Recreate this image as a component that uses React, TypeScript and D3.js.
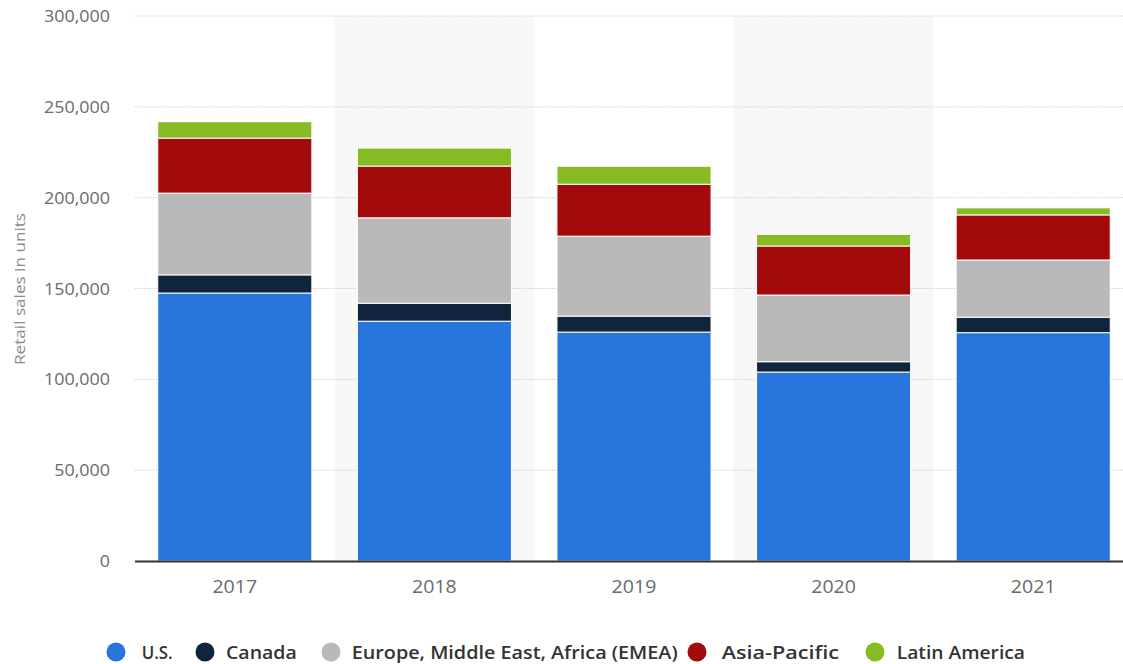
import React from "react";
import * as d3 from "d3";

const years = ["2017", "2018", "2019", "2020", "2021"];
const seriesNames = ["U.S.", "Canada", "Europe, Middle East, Africa (EMEA)", "Asia-Pacific", "Latin America"];
const usValues = [147500, 132000, 126000, 104000, 125700];
const canadaValues = [10000, 9900, 8800, 5700, 8500];
const emeaValues = [45000, 47000, 44000, 36700, 31500];
const apacValues = [30300, 28500, 28600, 27000, 24800];
const latamValues = [9000, 9900, 9900, 6400, 3900];
const yTicks = [0, 50000, 100000, 150000, 200000, 250000, 300000];
const colors = ["#2876dd", "#0f253d", "#b9b9b9", "#a30a0b", "#86bb23"];
const legendTextWidths = [31, 70.7, 326, 117.3, 128.3];
const legendCircleX = [116, 205, 331, 697, 875];
const legendTextX = [141.7, 226, 351.7, 721.7, 896.7];

export default function App() {
  const W = 1123, H = 664;
  const left = 135, right = 1133, top = 16, bottom = 561;
  const x = d3.scaleBand<string>().domain(years).range([left, right]).paddingInner(0.228).paddingOuter(0.114);
  const xFull = d3.scaleBand<string>().domain(years).range([left, right]).padding(0);
  const y = d3.scaleLinear().domain([0, 300000]).range([bottom, top]);

  const allSeries = [usValues, canadaValues, emeaValues, apacValues, latamValues];
  const table = years.map((yr, i) => {
    const o: any = { year: yr };
    seriesNames.forEach((s, j) => (o[s] = allSeries[j][i]));
    return o;
  });
  const stacked = d3.stack<any>().keys(seriesNames)(table);
  const fmt = d3.format(",");

  return (
    <svg width={W} height={H} style={{ position: "absolute", left: 0, top: 0, background: "#fff" }}
      fontFamily="'Open Sans', sans-serif">
      {years.map((yr, i) =>
        i % 2 === 1 ? (
          <rect key={yr} x={xFull(yr)} y={top} width={xFull.bandwidth()} height={bottom - top} fill="#f8f8f8" />
        ) : null
      )}
      {yTicks.filter((t) => t > 0).map((t) => (
        <line key={t} x1={left} x2={W} y1={y(t)} y2={y(t)} stroke="#cfcfcf" strokeWidth={1} strokeDasharray="1.5,1.5" />
      ))}
      {yTicks.map((t) => (
        <text key={t} transform={`translate(110,${y(t)}) scale(1.12,1)`} textAnchor="end" dominantBaseline="central"
          fontSize={16} fill="#6b6b6b">{fmt(t)}</text>
      ))}
      <text transform={`translate(25,289) rotate(-90)`} textAnchor="middle" fontSize={14.5} fill="#8a8a8a"
        textLength={152} lengthAdjust="spacingAndGlyphs">Retail sales in units</text>
      {stacked.map((layer, j) => (
        <g key={layer.key} fill={colors[j]}>
          {layer.map((d, i) => (
            <rect key={i} x={x(years[i])} width={x.bandwidth()} y={y(d[1])} height={y(d[0]) - y(d[1])}
              stroke="#ffffff" strokeWidth={1} />
          ))}
        </g>
      ))}
      <line x1={left} x2={W} y1={bottom + 0.5} y2={bottom + 0.5} stroke="#333" strokeWidth={2} />
      {years.map((yr) => (
        <text key={yr} transform={`translate(${(x(yr) as number) + x.bandwidth() / 2},593) scale(1.12,1)`}
          textAnchor="middle" fontSize={17.5} fill="#6b6b6b">{yr}</text>
      ))}
      {seriesNames.map((s, j) => (
        <g key={s}>
          <circle cx={legendCircleX[j]} cy={652} r={9.5} fill={colors[j]} />
          <text x={legendTextX[j]} y={659} fontSize={18.5} fontWeight={600} fill="#333"
            textLength={legendTextWidths[j]} lengthAdjust="spacingAndGlyphs">{s}</text>
        </g>
      ))}
    </svg>
  );
}
